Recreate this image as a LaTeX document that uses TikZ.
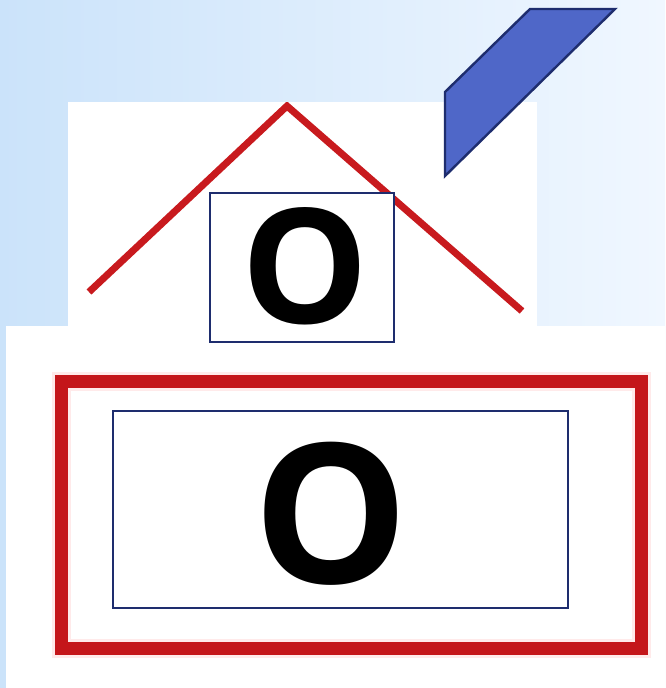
\documentclass[tikz,border=0pt]{standalone}
\usepackage{fontspec}
\setmainfont{Open Sans}
\definecolor{bgleft}{RGB}{203,227,250}
\definecolor{bgright}{RGB}{240,247,255}
\definecolor{roofred}{RGB}{200,26,30}
\definecolor{rectred}{RGB}{196,22,26}
\definecolor{glow}{RGB}{255,234,234}
\definecolor{navy}{RGB}{30,45,110}
\definecolor{chimney}{RGB}{79,103,200}
\tikzset{
  frame/.style={draw=navy,line width=2.6pt,fill=white,inner sep=0pt,rectangle},
  letter/.style={inner sep=0pt,anchor=base,font=\bfseries,text=black},
  roof/.style={draw=roofred,line width=7pt,line join=miter},
}
\begin{document}
\begin{tikzpicture}[x=1pt,y=-1pt]
\useasboundingbox (0,0) rectangle (665,688);
\shade[left color=bgleft,right color=bgright] (0,0) rectangle (665,688);
% white panels
\fill[white] (68,102) rectangle (537,327);
\fill[white] (6,326) rectangle (665,688);
% chimney
\draw[fill=chimney,draw=navy,line width=2.4pt,line join=miter]
  (445,92) -- (530,9) -- (615,9) -- (445,176) -- cycle;
% roof
\coordinate (rl) at (89,292);
\coordinate (apex) at (287,106);
\coordinate (rr) at (522,311);
\begin{scope}
\clip (0,102) rectangle (665,688);
\draw[roof] (rl) -- (apex) -- (rr);
\end{scope}
% small box and letter
\node[frame,minimum width=184pt,minimum height=149pt] (small) at (302,267.5) {};
\node[letter,font=\fontsize{160}{160}\bfseries\selectfont] (o1) at (305.5,323) {O};
% big red rectangle
\draw[glow,line width=19pt] (61.5,381.5) rectangle (641.5,648.5);
\draw[rectred,line width=13pt] (61.5,381.5) rectangle (641.5,648.5);
% big inner box and letter
\node[frame,minimum width=455pt,minimum height=197pt] (big) at (340.5,509.5) {};
\node[letter,font=\fontsize{195}{195}\bfseries\selectfont] (o2) at (331.5,583) {O};
\end{tikzpicture}
\end{document}
